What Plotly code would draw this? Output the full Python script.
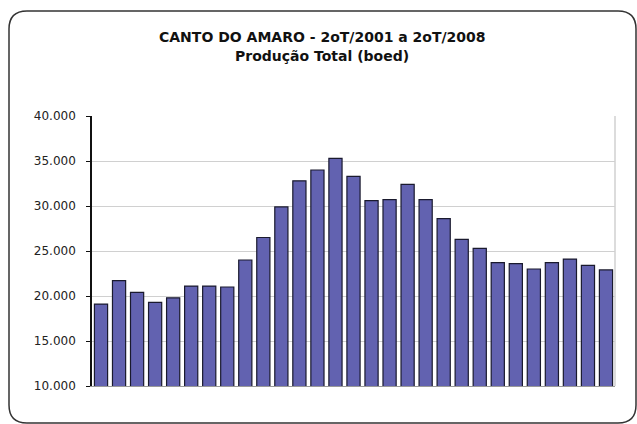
import plotly.graph_objects as go

# Quarterly production, 2Q2001 .. 2Q2008 (boed)
quarters = [
    "2T01", "3T01", "4T01",
    "1T02", "2T02", "3T02", "4T02",
    "1T03", "2T03", "3T03", "4T03",
    "1T04", "2T04", "3T04", "4T04",
    "1T05", "2T05", "3T05", "4T05",
    "1T06", "2T06", "3T06", "4T06",
    "1T07", "2T07", "3T07", "4T07",
    "1T08", "2T08",
]
production = [
    19100, 21700, 20400,
    19300, 19800, 21100, 21100,
    21000, 24000, 26500, 29900,
    32800, 34000, 35300, 33300,
    30600, 30700, 32400, 30700,
    28600, 26300, 25300, 23700,
    23600, 23000, 23700, 24100,
    23400, 22900,
]
y_ticks = [10000, 15000, 20000, 25000, 30000, 35000, 40000]
y_tick_labels = ["10.000", "15.000", "20.000", "25.000", "30.000", "35.000", "40.000"]
title_lines = ["CANTO DO AMARO - 2oT/2001 a 2oT/2008", "Produção Total (boed)"]

_BAR    = "#6262b0"
_EDGE   = "#1a1a2e"
_GRID   = "#d0d0d0"
_TEXT   = "#222222"
_FONT   = "DejaVu Sans, Verdana, sans-serif"

W, H = 637, 424
L, R, T, B = 92, 22, 116, 38
pw, ph = W - L - R, H - T - B


def px_to_paper(x, y):
    return (x - L) / pw, (H - B - y) / ph


fig = go.Figure()
fig.add_trace(go.Bar(
    x=quarters, y=production,
    marker=dict(color=_BAR, line=dict(color=_EDGE, width=1.2)),
    hovertemplate="%{x}: %{y:,.0f}<extra></extra>",
))

# rounded outer frame (pixel positions mapped to paper coords)
x0, y0, x1, y1, r = 9, 11, 636, 423, 18
ax0, ay0 = px_to_paper(x0, y0)
ax1, ay1 = px_to_paper(x1, y1)
rx, ry = r / pw, r / ph
frame = (
    f"M {ax0 + rx} {ay0} L {ax1 - rx} {ay0} Q {ax1} {ay0} {ax1} {ay0 - ry} "
    f"L {ax1} {ay1 + ry} Q {ax1} {ay1} {ax1 - rx} {ay1} "
    f"L {ax0 + rx} {ay1} Q {ax0} {ay1} {ax0} {ay1 + ry} "
    f"L {ax0} {ay0 - ry} Q {ax0} {ay0} {ax0 + rx} {ay0} Z"
)
fig.add_shape(type="path", path=frame, xref="paper", yref="paper",
              line=dict(color="#333333", width=1.5), layer="above")

# two title lines, placed separately
for text, ypx in zip(title_lines, [37, 56]):
    _, yp = px_to_paper(0, ypx)
    fig.add_annotation(
        text=f"<b>{text}</b>", xref="paper", yref="paper",
        x=(322 - L) / pw, y=yp, xanchor="center", yanchor="middle",
        showarrow=False, font=dict(size=14, color="#111111", family=_FONT),
    )

fig.update_layout(
    width=W, height=H,
    margin=dict(l=L, r=R, t=T, b=B),
    plot_bgcolor="white", paper_bgcolor="white",
    bargap=0.27,
    showlegend=False,
    font=dict(family=_FONT, color=_TEXT),
)
fig.update_xaxes(
    showticklabels=False, showgrid=False, ticks="",
    showline=True, linecolor="#999999", linewidth=1, mirror=False,
)
fig.update_yaxes(
    range=[10000, 40000], tickvals=y_ticks, ticktext=y_tick_labels,
    tickfont=dict(size=12, color=_TEXT),
    showgrid=True, gridcolor=_GRID, gridwidth=1,
    showline=True, linecolor="#111111", linewidth=1.5,
    ticks="outside", ticklen=4, tickcolor="#111111",
    ticklabelstandoff=8,
    zeroline=False,
)
# right border of the plot area
fig.add_shape(type="line", xref="paper", yref="paper", x0=1, x1=1, y0=0, y1=1,
              line=dict(color=_GRID, width=1.5))

fig.write_html(
    "out.html",
    config={"displayModeBar": False},
    post_script="document.body.style.margin='0';",
)
